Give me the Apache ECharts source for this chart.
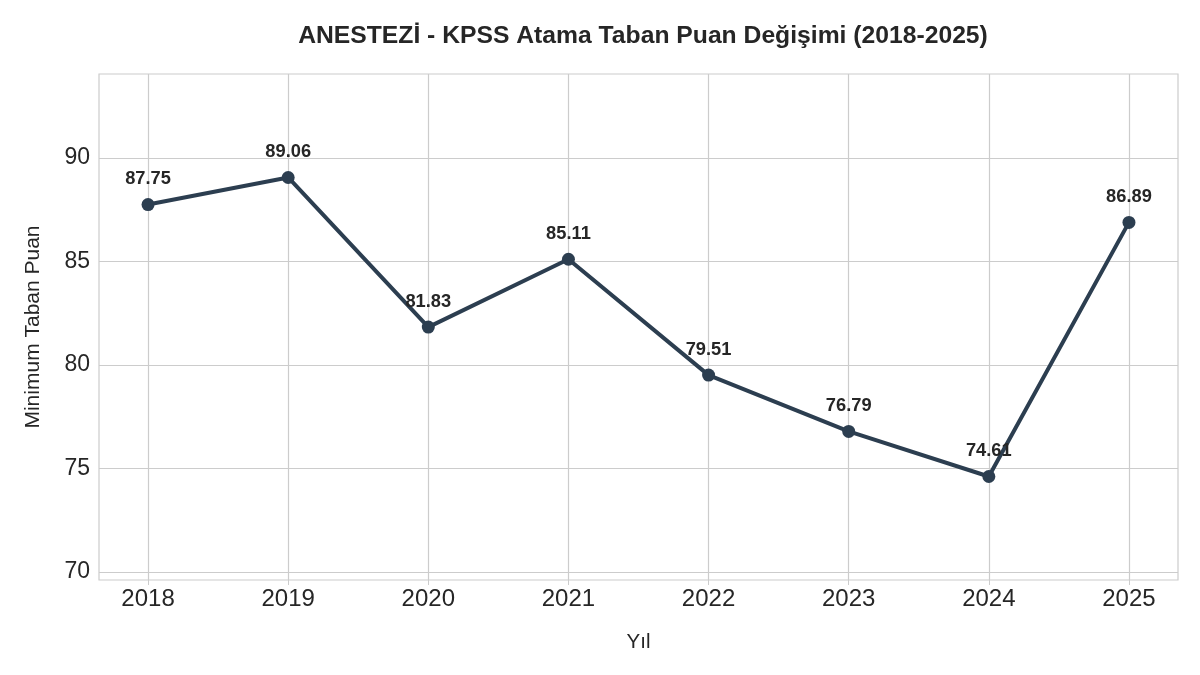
<!DOCTYPE html>
<html>
<head>
<meta charset="utf-8">
<script src="https://cdn.jsdelivr.net/npm/echarts@6/dist/echarts.min.js"></script>
<style>
  html, body { margin: 0; padding: 0; background: #fff; }
  #chart { width: 1200px; height: 675px; }
</style>
</head>
<body>
<div id="chart"></div>
<script>
const years = [2018, 2019, 2020, 2021, 2022, 2023, 2024, 2025];
const scores = [87.75, 89.06, 81.83, 85.11, 79.51, 76.79, 74.61, 86.89];
const yTicks = [70, 75, 80, 85, 90];

const chart = echarts.init(document.getElementById("chart"));
const font = "'Liberation Sans', Arial, sans-serif";
const gridColor = "#cccccc";

chart.setOption({
  animation: false,
  textStyle: { fontFamily: font },
  title: {
    text: "ANESTEZİ - KPSS Atama Taban Puan Değişimi (2018-2025)",
    left: 638,
    textAlign: "center",
    top: 19,
    textStyle: { fontSize: 24.7, fontWeight: "bold", color: "#262626", fontFamily: font },
  },
  grid: { left: 99, right: 22, top: 74, bottom: 95, show: true, borderColor: gridColor, borderWidth: 1.2 },
  xAxis: {
    type: "value",
    min: 2017.65,
    max: 2025.35,
    name: "Yıl",
    nameLocation: "middle",
    nameGap: 52,
    nameTextStyle: { fontSize: 20.5, color: "#262626" },
    axisLine: { show: false },
    axisTick: { show: true, customValues: years, length: 5, lineStyle: { color: gridColor } },
    axisLabel: { customValues: years, fontSize: 24, color: "#262626", margin: 7, formatter: (v) => String(v) },
    splitLine: { show: true, lineStyle: { color: gridColor, width: 1.2 } },
  },
  yAxis: {
    type: "value",
    min: 69.61,
    max: 94.06,
    name: "Minimum Taban Puan",
    nameLocation: "middle",
    nameGap: 55,
    nameTextStyle: { fontSize: 21, color: "#262626" },
    axisLine: { show: false },
    axisTick: { show: false, customValues: yTicks },
    axisLabel: { customValues: yTicks, fontSize: 23, color: "#262626", margin: 9 },
    splitLine: { show: true, lineStyle: { color: gridColor, width: 1.2 } },
  },
  series: [
    {
      type: "line",
      data: years.map((y, i) => [y, scores[i]]),
      symbol: "circle",
      symbolSize: 13,
      lineStyle: { color: "#2c3e50", width: 4 },
      itemStyle: { color: "#2c3e50" },
      label: {
        show: true,
        position: "top",
        distance: 10,
        fontSize: 18.3,
        fontWeight: "bold",
        color: "#262626",
        formatter: (p) => p.value[1].toFixed(2),
      },
      z: 5,
    },
  ],
});
</script>
</body>
</html>
